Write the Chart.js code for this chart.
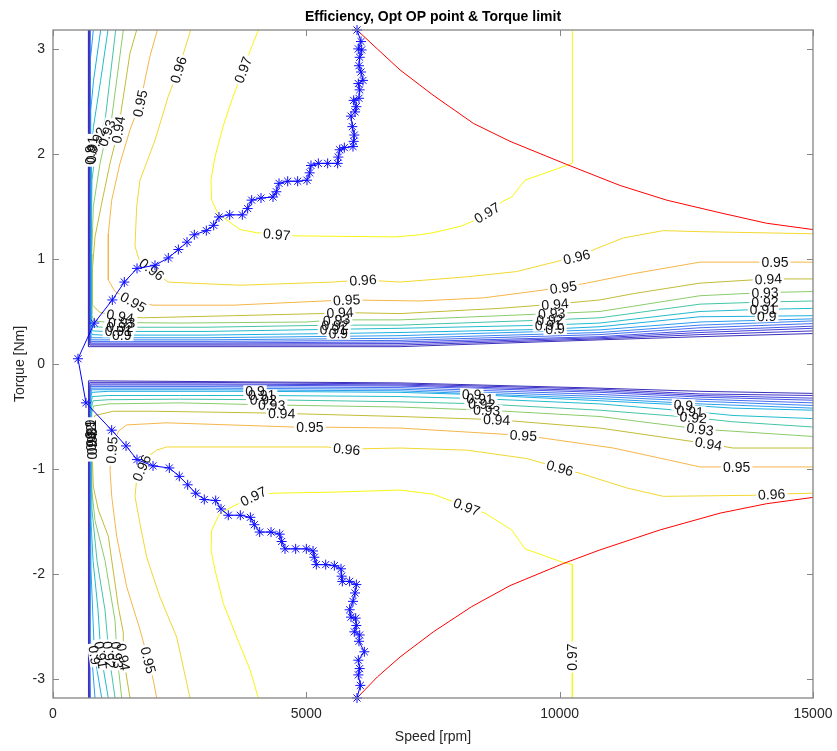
<!DOCTYPE html>
<html>
<head>
<meta charset="utf-8">
<script src="https://cdn.jsdelivr.net/npm/chart.js@4.4.1/dist/chart.umd.min.js"></script>
<style>
html,body{margin:0;padding:0;background:#fff;}
#wrap{width:837px;height:751px;}
</style>
</head>
<body>
<div id="wrap"><canvas id="c" width="837" height="751"></canvas></div>
<script>
// Axis ticks
const speedTicks = [0, 5000, 10000, 15000];
const torqueTicks = [-3, -2, -1, 0, 1, 2, 3];
const speedRange = [0, 15000];
const torqueRange = [-3.18, 3.18];

// Efficiency contour levels
const levels = [0.83, 0.84, 0.85, 0.86, 0.87, 0.88, 0.89, 0.90, 0.91, 0.92, 0.93, 0.94, 0.95, 0.96, 0.97];

// Motoring (positive torque) iso-efficiency lines, [speed rpm, torque Nm]
const up83 = [[700,3.18],[700,0.165],[6849,0.165],[10796,0.23],[12770,0.26],[15000,0.29]];
const up84 = [[710,3.18],[710,0.20],[725,0.18],[3000,0.18],[6849,0.18],[10796,0.24],[12770,0.28],[15000,0.315]];
const up85 = [[715,3.18],[715,0.22],[735,0.19],[3000,0.19],[6849,0.195],[10796,0.25],[12770,0.30],[15000,0.34]];
const up86 = [[720,3.18],[720,0.24],[745,0.20],[3000,0.20],[6849,0.21],[10796,0.26],[12770,0.32],[15000,0.36]];
const up87 = [[725,3.18],[725,0.26],[750,0.215],[3000,0.215],[6849,0.225],[10796,0.28],[12770,0.345],[15000,0.385]];
const up88 = [[740,3.18],[730,3.0],[730,0.28],[755,0.23],[3000,0.23],[6849,0.245],[10796,0.30],[12770,0.37],[15000,0.41]];
const up89 = [[796,3.18],[735,2.89],[735,0.31],[760,0.25],[3000,0.25],[6849,0.27],[10796,0.325],[12770,0.40],[15000,0.43]];
const up90 = [[941,3.18],[800,2.70],[742,2.40],[742,0.34],[770,0.28],[1000,0.275],[3000,0.275],[5500,0.29],[6849,0.30],[9700,0.33],[10796,0.355],[12770,0.45],[14000,0.455],[15000,0.46]];
const up91 = [[1085,3.18],[940,2.70],[796,2.25],[760,2.0],[750,1.5],[750,0.38],[780,0.315],[1000,0.31],[3000,0.31],[5500,0.33],[6849,0.34],[9750,0.37],[10796,0.39],[12770,0.50],[14000,0.52],[15000,0.53]];
const up92 = [[1237,3.18],[1026,2.31],[862,2.13],[770,1.75],[758,1.28],[758,0.42],[790,0.355],[1000,0.35],[3000,0.35],[5566,0.37],[6849,0.37],[9809,0.42],[10796,0.44],[12770,0.57],[14053,0.59],[15000,0.60]];
const up93 = [[1388,3.18],[1158,2.34],[1059,2.20],[928,1.91],[796,1.50],[766,1.05],[766,0.47],[800,0.41],[1100,0.395],[2500,0.39],[5000,0.40],[5599,0.42],[6849,0.42],[9842,0.48],[10796,0.50],[12770,0.65],[14053,0.68],[15000,0.69]];
const up94 = [[1652,3.18],[1520,2.96],[1289,2.23],[1125,1.91],[961,1.53],[829,1.21],[778,0.90],[778,0.56],[930,0.49],[1387,0.45],[1780,0.44],[3559,0.46],[5270,0.48],[5664,0.49],[6849,0.48],[8820,0.53],[9908,0.57],[10796,0.61],[11454,0.67],[12770,0.77],[14118,0.81],[15000,0.81]];
const up95 = [[2059,3.18],[1914,2.93],[1717,2.48],[1520,2.23],[1322,1.91],[1159,1.56],[1092,1.24],[1092,0.80],[1224,0.69],[1585,0.59],[1980,0.56],[3553,0.56],[5797,0.61],[7243,0.60],[8500,0.63],[9300,0.68],[10072,0.73],[10533,0.77],[11454,0.86],[12770,0.97],[15000,0.97]];
const up96 = [[2718,3.18],[2473,2.80],[2276,2.55],[2013,2.13],[1717,1.75],[1652,1.50],[1618,1.12],[1703,0.99],[1948,0.90],[2276,0.78],[2704,0.77],[3691,0.75],[5526,0.78],[6118,0.80],[6849,0.78],[8165,0.83],[9151,0.88],[9809,0.96],[10336,1.02],[10731,1.10],[11256,1.20],[12045,1.27],[12770,1.26],[15000,1.24]];
const up97 = [[4052,3.18],[3922,3.02],[3750,2.80],[3527,2.51],[3355,2.26],[3197,1.97],[3118,1.75],[3132,1.56],[3257,1.43],[3493,1.35],[3691,1.28],[4020,1.25],[4776,1.22],[6750,1.21],[7243,1.23],[7500,1.25],[8033,1.31],[8289,1.36],[8566,1.44],[8882,1.55],[9053,1.59],[9316,1.75],[10250,1.91],[10250,3.18]];

// Generating (negative torque) iso-efficiency lines
const lo83 = [[700,-3.18],[700,-0.16],[6849,-0.18],[10796,-0.23],[12770,-0.26],[15000,-0.28]];
const lo84 = [[710,-3.18],[710,-0.20],[725,-0.175],[3000,-0.175],[6849,-0.19],[10796,-0.24],[12770,-0.285],[15000,-0.30]];
const lo85 = [[715,-3.18],[715,-0.22],[735,-0.19],[3000,-0.19],[6849,-0.20],[10796,-0.255],[12770,-0.30],[15000,-0.325]];
const lo86 = [[720,-3.18],[720,-0.24],[745,-0.20],[3000,-0.20],[6849,-0.21],[10796,-0.27],[12770,-0.315],[15000,-0.345]];
const lo87 = [[725,-3.18],[725,-0.26],[750,-0.215],[3000,-0.215],[6849,-0.225],[10796,-0.29],[12770,-0.335],[15000,-0.37]];
const lo88 = [[740,-3.18],[730,-2.9],[730,-0.28],[755,-0.23],[3000,-0.23],[6849,-0.24],[10796,-0.31],[12770,-0.355],[15000,-0.395]];
const lo89 = [[829,-3.18],[735,-2.6],[735,-0.31],[760,-0.245],[3000,-0.245],[6849,-0.255],[10796,-0.33],[12770,-0.38],[15000,-0.42]];
const lo90 = [[961,-3.18],[820,-2.77],[790,-2.44],[750,-1.96],[742,-1.5],[742,-0.34],[765,-0.27],[1100,-0.26],[3987,-0.26],[6849,-0.27],[8264,-0.29],[10796,-0.35],[12441,-0.39],[13421,-0.42],[15000,-0.44]];
const lo91 = [[1092,-3.18],[947,-2.77],[888,-2.34],[790,-1.87],[750,-1.49],[750,-0.38],[775,-0.31],[1100,-0.30],[2500,-0.30],[4119,-0.30],[6849,-0.31],[8428,-0.33],[10796,-0.38],[12572,-0.45],[13421,-0.49],[15000,-0.52]];
const lo92 = [[1224,-3.18],[1105,-2.77],[1026,-2.34],[868,-1.87],[770,-1.39],[758,-1.0],[758,-0.42],[790,-0.35],[1100,-0.34],[2500,-0.335],[4151,-0.34],[6849,-0.36],[8461,-0.38],[10796,-0.44],[12638,-0.51],[13421,-0.55],[15000,-0.60]];
const lo93 = [[1356,-3.18],[1263,-2.77],[1224,-2.44],[1026,-1.87],[829,-1.49],[766,-1.2],[766,-0.47],[800,-0.40],[1100,-0.38],[2500,-0.37],[4316,-0.39],[6849,-0.41],[8560,-0.44],[10796,-0.50],[12770,-0.62],[13421,-0.64],[15000,-0.69]];
const lo94 = [[1520,-3.18],[1388,-2.79],[1388,-2.56],[1289,-2.31],[1092,-1.64],[895,-1.39],[796,-1.17],[778,-0.90],[778,-0.55],[829,-0.49],[1190,-0.45],[2000,-0.45],[4000,-0.465],[4513,-0.47],[6849,-0.50],[8757,-0.53],[10796,-0.61],[12934,-0.76],[13421,-0.80],[15000,-0.80]];
const lo95 = [[2046,-3.18],[1980,-3.01],[1881,-2.82],[1717,-2.53],[1454,-2.12],[1257,-1.64],[1159,-1.26],[1125,-1.01],[1159,-0.82],[1289,-0.64],[1454,-0.58],[2244,-0.56],[4743,-0.60],[5072,-0.60],[6849,-0.61],[9283,-0.68],[9743,-0.71],[11059,-0.80],[12112,-0.91],[12770,-0.98],[13494,-0.98],[15000,-0.98]];
const lo96 = [[2704,-3.18],[2441,-2.60],[2112,-2.22],[1849,-1.84],[1717,-1.52],[1618,-1.26],[1652,-1.10],[1750,-0.99],[1783,-0.91],[2046,-0.82],[2244,-0.79],[5402,-0.79],[5797,-0.81],[6849,-0.80],[8165,-0.82],[9349,-0.90],[10007,-0.99],[10401,-1.04],[11323,-1.18],[12045,-1.26],[13822,-1.25],[14184,-1.24],[15000,-1.23]];
const lo97 = [[4052,-3.18],[3888,-2.91],[3625,-2.60],[3361,-2.28],[3197,-1.96],[3118,-1.77],[3132,-1.58],[3296,-1.42],[3658,-1.33],[3953,-1.26],[4348,-1.23],[5526,-1.22],[6849,-1.20],[7507,-1.24],[8165,-1.36],[8526,-1.42],[9053,-1.58],[9316,-1.76],[10072,-1.89],[10250,-1.91],[10250,-3.18]];

const upperContours = [up83, up84, up85, up86, up87, up88, up89, up90, up91, up92, up93, up94, up95, up96, up97];
const lowerContours = [lo83, lo84, lo85, lo86, lo87, lo88, lo89, lo90, lo91, lo92, lo93, lo94, lo95, lo96, lo97];

// Inline contour labels: [level, speed, torque]
const upperLabels = [
  [0.97,3750,2.80],[0.97,4415,1.23],[0.97,8566,1.44],
  [0.96,2473,2.80],[0.96,1948,0.90],[0.96,6118,0.80],[0.96,10336,1.02],
  [0.95,1717,2.48],[0.95,1585,0.59],[0.95,5797,0.61],[0.95,10072,0.73],[0.95,14250,0.97],
  [0.94,1289,2.23],[0.94,1322,0.45],[0.94,5664,0.49],[0.94,9908,0.57],[0.94,14118,0.81],
  [0.93,1059,2.20],[0.93,1356,0.395],[0.93,5599,0.41],[0.93,9842,0.48],[0.93,14053,0.68],
  [0.92,862,2.13],[0.92,1322,0.35],[0.92,5566,0.37],[0.92,9809,0.42],[0.92,14053,0.59],
  [0.91,790,2.04],[0.91,1289,0.31],[0.91,5533,0.33],[0.91,9776,0.37],[0.91,14020,0.52],
  [0.90,742,1.99],[0.90,1356,0.275],[0.90,5632,0.29],[0.90,9908,0.33],[0.90,14086,0.455]
];
const lowerLabels = [
  [0.97,3953,-1.26],[0.97,8165,-1.36],[0.97,10250,-2.79],
  [0.96,1750,-0.99],[0.96,5797,-0.81],[0.96,10007,-0.99],[0.96,14184,-1.24],
  [0.95,1881,-2.82],[0.95,1159,-0.82],[0.95,5072,-0.60],[0.95,9283,-0.68],[0.95,13494,-0.98],
  [0.94,1388,-2.79],[0.94,778,-0.78],[0.94,4513,-0.47],[0.94,8757,-0.53],[0.94,12934,-0.77],
  [0.93,1263,-2.77],[0.93,766,-0.74],[0.93,4316,-0.39],[0.93,8560,-0.44],[0.93,12770,-0.62],
  [0.92,1105,-2.77],[0.92,758,-0.70],[0.92,4151,-0.34],[0.92,8461,-0.38],[0.92,12638,-0.51],
  [0.91,947,-2.77],[0.91,750,-0.66],[0.91,4119,-0.30],[0.91,8428,-0.33],[0.91,12572,-0.45],
  [0.90,820,-2.77],[0.90,742,-0.62],[0.90,3987,-0.26],[0.90,8264,-0.29],[0.90,12441,-0.39]
];

// Optimal operating points (speed, torque) from full generating to full motoring torque
const optPoints = [
  [6000,-3.18],[6066,-3.06],[6026,-2.96],[6053,-2.90],[6026,-2.82],[6145,-2.74],[6039,-2.64],[6053,-2.58],
  [5947,-2.55],[5987,-2.49],[5974,-2.42],[5882,-2.41],[5855,-2.34],[5921,-2.26],[5961,-2.18],[5987,-2.10],
  [5855,-2.07],[5711,-2.07],[5697,-2.02],[5684,-1.95],[5553,-1.92],[5382,-1.91],[5197,-1.91],[5158,-1.84],
  [5132,-1.78],[5000,-1.76],[4789,-1.76],[4579,-1.76],[4513,-1.69],[4474,-1.62],[4303,-1.60],[4079,-1.60],
  [3974,-1.53],[3895,-1.46],[3697,-1.44],[3460,-1.44],[3316,-1.38],[3211,-1.30],[2986,-1.29],[2816,-1.23],
  [2658,-1.15],[2493,-1.07],[2296,-0.99],[1974,-0.97],[1658,-0.91],[1441,-0.78],[1158,-0.63],[651,-0.37],
  [493,0.05],
  [815,0.39],[1171,0.61],[1408,0.78],[1658,0.91],[2013,0.94],[2276,1.01],[2474,1.09],[2645,1.16],
  [2789,1.23],[3026,1.27],[3171,1.32],[3276,1.40],[3487,1.42],[3737,1.42],[3842,1.48],[3921,1.56],
  [4105,1.58],[4342,1.59],[4408,1.64],[4461,1.72],[4632,1.74],[4829,1.74],[5013,1.75],[5066,1.82],
  [5092,1.89],[5237,1.91],[5421,1.91],[5618,1.91],[5631,1.97],[5658,2.04],[5750,2.06],[5921,2.07],
  [5934,2.12],[5947,2.18],[5908,2.26],[5882,2.36],[5961,2.40],[5987,2.45],[5934,2.51],[6039,2.53],
  [6053,2.61],[6026,2.67],[6118,2.70],[6079,2.78],[6039,2.84],[6053,2.92],[6092,2.99],[6026,3.00],
  [6079,3.07],[6000,3.18]
];

// Torque limit envelope
const limitUpper = [[6000,3.18],[6400,3.00],[6849,2.80],[7500,2.56],[8300,2.29],[9020,2.12],[10139,1.90],[11191,1.70],[12112,1.56],[13165,1.44],[14086,1.34],[15000,1.28]];
const limitLower = [[6000,-3.18],[6400,-2.98],[6849,-2.79],[7507,-2.55],[8264,-2.31],[9020,-2.11],[10072,-1.90],[10796,-1.77],[11980,-1.58],[13165,-1.42],[14086,-1.33],[15000,-1.27]];

// Line colours for each contour level (low -> high)
const levelColors = ['#3a30b8','#4236cc','#4644dc','#4856e6','#466cee','#3c84f2','#2c9cee','#1cb0e2','#22bccc','#44c4a6','#8acc6a','#c2bc36','#f6b64a','#f2d830','#f6f612'];

const toXY = p => p.map(([x, y]) => ({x, y}));

const datasets = [
  {data: toXY(optPoints), borderColor: '#0000ff', backgroundColor: '#0000ff', borderWidth: 1,
   pointStyle: 'star', pointRadius: 5, pointBorderWidth: 1, pointBorderColor: '#1010ff', showLine: true, clip: false},
  {data: toXY(limitUpper), borderColor: '#ff0000', borderWidth: 1, pointRadius: 0, showLine: true},
  {data: toXY(limitLower), borderColor: '#ff0000', borderWidth: 1, pointRadius: 0, showLine: true}
];
const firstContour = datasets.length;
levels.forEach((lv, i) => {
  [upperContours[i], lowerContours[i]].forEach(path => datasets.push({
    data: toXY(path), borderColor: levelColors[i], borderWidth: 1, pointRadius: 0, showLine: true
  }));
});

// Place a label on its contour, aligned with the local direction of the line
function placeLabel(chart, path, sx, sy) {
  const xs = chart.scales.x, ys = chart.scales.y;
  const px = xs.getPixelForValue(sx), py = ys.getPixelForValue(sy);
  let best = null;
  for (let i = 0; i < path.length - 1; i++) {
    const ax = xs.getPixelForValue(path[i][0]), ay = ys.getPixelForValue(path[i][1]);
    const bx = xs.getPixelForValue(path[i + 1][0]), by = ys.getPixelForValue(path[i + 1][1]);
    const dx = bx - ax, dy = by - ay, len2 = dx * dx + dy * dy;
    let t = len2 ? ((px - ax) * dx + (py - ay) * dy) / len2 : 0;
    t = Math.max(0, Math.min(1, t));
    const qx = ax + t * dx, qy = ay + t * dy;
    const d = Math.hypot(px - qx, py - qy);
    if (!best || d < best.d) best = {d, x: qx, y: qy, a: Math.atan2(dy, dx)};
  }
  let a = best.a;
  if (a >= Math.PI / 2 - 1e-6) a -= Math.PI;
  if (a < -Math.PI / 2 - 1e-6) a += Math.PI;
  return {x: best.x, y: best.y, a};
}

const contourLabels = {
  id: 'contourLabels',
  afterDatasetDraw(chart, args) {
    if (args.index !== firstContour) return;
    const ctx = chart.ctx, area = chart.chartArea;
    const items = [];
    [[upperLabels, upperContours], [lowerLabels, lowerContours]].forEach(([labels, paths]) => {
      labels.forEach(([lv, sx, sy]) => {
        const p = placeLabel(chart, paths[levels.indexOf(lv)], sx, sy);
        items.push({text: String(lv), ...p});
      });
    });
    ctx.save();
    ctx.beginPath();
    ctx.rect(area.left, area.top, area.right - area.left, area.bottom - area.top);
    ctx.clip();
    ctx.font = "14px 'Liberation Sans', Arial, sans-serif";
    ctx.textAlign = 'center';
    ctx.textBaseline = 'middle';
    items.forEach(it => {
      const w = ctx.measureText(it.text).width + 4;
      ctx.save();
      ctx.translate(it.x, it.y);
      ctx.rotate(it.a);
      ctx.fillStyle = '#ffffff';
      ctx.fillRect(-w / 2, -6, w, 12);
      ctx.restore();
    });
    ctx.fillStyle = '#111111';
    items.forEach(it => {
      ctx.save();
      ctx.translate(it.x, it.y);
      ctx.rotate(it.a);
      ctx.fillText(it.text, 0, 1);
      ctx.restore();
    });
    ctx.restore();
  }
};

// Axes box with inward tick marks on all four sides
const axesBox = {
  id: 'axesBox',
  afterDatasetsDraw(chart) {
    const ctx = chart.ctx, a = chart.chartArea, xs = chart.scales.x, ys = chart.scales.y;
    const L = 6;
    ctx.save();
    ctx.strokeStyle = '#858585';
    ctx.lineWidth = 1.3;
    ctx.strokeRect(a.left, a.top, a.right - a.left, a.bottom - a.top);
    ctx.lineWidth = 1;
    ctx.beginPath();
    speedTicks.forEach(v => {
      const x = Math.round(xs.getPixelForValue(v)) + 0.5;
      ctx.moveTo(x, a.bottom); ctx.lineTo(x, a.bottom - L);
      ctx.moveTo(x, a.top); ctx.lineTo(x, a.top + L);
    });
    torqueTicks.forEach(v => {
      const y = Math.round(ys.getPixelForValue(v)) + 0.5;
      ctx.moveTo(a.left, y); ctx.lineTo(a.left + L, y);
      ctx.moveTo(a.right, y); ctx.lineTo(a.right - L, y);
    });
    ctx.stroke();
    ctx.restore();
  }
};

Chart.defaults.font.family = "'Liberation Sans', Arial, sans-serif";
Chart.defaults.color = '#262626';

new Chart(document.getElementById('c'), {
  type: 'scatter',
  data: {datasets},
  options: {
    responsive: false,
    animation: false,
    devicePixelRatio: 1,
    layout: {padding: 0},
    elements: {line: {tension: 0, fill: false}},
    plugins: {
      legend: {display: false},
      tooltip: {enabled: false},
      title: {
        display: true,
        text: 'Efficiency, Opt OP point & Torque limit',
        fullSize: false,
        color: '#000000',
        font: {size: 14, weight: 'bold'},
        padding: {top: 8.6, bottom: 4.6}
      }
    },
    scales: {
      x: {
        type: 'linear',
        min: speedRange[0], max: speedRange[1],
        afterBuildTicks: s => { s.ticks = speedTicks.map(v => ({value: v})); },
        afterFit: s => { s.height = 53; s.paddingLeft = 0; s.paddingRight = 24; },
        grid: {display: false, drawTicks: false},
        border: {display: false},
        ticks: {font: {size: 14}, color: '#262626', padding: 8, maxRotation: 0, autoSkip: false,
                callback: v => String(v)},
        title: {display: true, text: 'Speed [rpm]', font: {size: 14}, color: '#262626',
                padding: {top: 5.6, bottom: 5.6}}
      },
      y: {
        type: 'linear',
        min: torqueRange[0], max: torqueRange[1],
        afterBuildTicks: s => { s.ticks = torqueTicks.map(v => ({value: v})); },
        afterFit: s => { s.width = 53; s.paddingTop = 0; s.paddingBottom = 0; },
        grid: {display: false, drawTicks: false},
        border: {display: false},
        ticks: {font: {size: 14}, color: '#262626', padding: 8, autoSkip: false,
                callback: v => String(v)},
        title: {display: true, text: 'Torque [Nm]', font: {size: 14}, color: '#262626',
                padding: {top: 11.6, bottom: 11.6}}
      }
    }
  },
  plugins: [contourLabels, axesBox]
});
</script>
</body>
</html>
